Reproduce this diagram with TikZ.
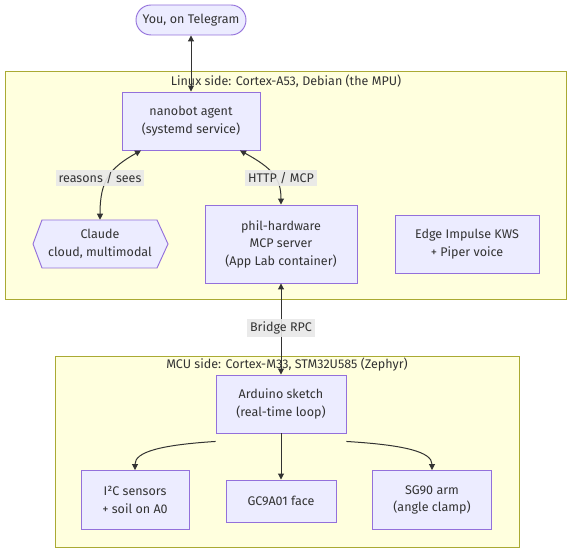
\documentclass[tikz,border=0pt]{standalone}
\usepackage{fontspec}
\setmainfont{Fira Sans}
\usetikzlibrary{arrows.meta}
\definecolor{nodefill}{HTML}{ECECFF}
\definecolor{nodeline}{HTML}{9370DB}
\definecolor{clfill}{HTML}{FFFFDE}
\definecolor{clline}{HTML}{AAAA33}
\definecolor{txt}{HTML}{333333}
\definecolor{lblbg}{HTML}{E8E8E8}
\tikzset{
  box/.style={draw=nodeline, fill=nodefill, line width=0.7pt, align=center, text=txt, inner sep=2pt},
  cluster/.style={draw=clline, fill=clfill, line width=0.75pt},
  cltitle/.style={text=txt, inner sep=0pt},
  conn/.style={draw=txt, line width=0.75pt},
  tip/.tip={Triangle[length=4.5pt,width=4.5pt]},
  edgelbl/.style={fill=lblbg, fill opacity=0.9, text opacity=1, text=txt, inner sep=2pt}
}
\begin{document}
\begin{tikzpicture}[x=0.75pt,y=-0.75pt, font=\fontsize{9.4}{13.1}\selectfont]
\useasboundingbox (0,0) rectangle (572,555);
% clusters
\path[cluster] (5,72) rectangle (566,300);
\node[cltitle] (linuxlbl) at (286,81) {Linux side: Cortex-A53, Debian (the MPU)};
\path[cluster] (55,357) rectangle (519,548);
\node[cltitle] (mculbl) at (287,365) {MCU side: Cortex-M33, STM32U585 (Zephyr)};
% nodes
\node[box, rounded corners=11.25pt, minimum width=82.5pt, minimum height=22.5pt] (tg) at (191,20) {You, on Telegram};
\node[box, minimum width=103.5pt, minimum height=43.5pt] (nano) at (191,121) {nanobot agent\\(systemd service)};
\draw[draw=nodeline, fill=nodefill, line width=0.7pt] (33,244) -- (42,220) -- (157,220) -- (168,244) -- (157,268) -- (42,268) -- cycle;
\node[align=center, text=txt, minimum width=101.25pt, minimum height=36pt, inner sep=0pt] (claude) at (100,244) {Claude\\cloud, multimodal};
\node[box, minimum width=114pt, minimum height=58.5pt] (phil) at (281,244) {phil-hardware\\MCP server\\(App Lab container)};
\node[box, minimum width=108pt, minimum height=43.5pt] (edge) at (467,244) {Edge Impulse KWS\\+ Piper voice};
\node[box, minimum width=97.5pt, minimum height=43.5pt] (ard) at (281,404) {Arduino sketch\\(real-time loop)};
\node[box, minimum width=81pt, minimum height=44.25pt] (i2c) at (135,500) {I²C sensors\\+ soil on A0};
\node[box, minimum width=82.5pt, minimum height=31.5pt] (gc) at (281,501) {GC9A01 face};
\node[box, minimum width=89.25pt, minimum height=44.25pt] (sg) at (432,500) {SG90 arm\\(angle clamp)};
% connectors
\draw[conn, {tip}-{tip}] (tg.south) -- (nano.north);
\draw[conn, {tip}-{tip}] ([xshift=-37.5pt]nano.south) .. controls (110,168) and (100,180) .. (claude.north);
\node[edgelbl] (l1) at (100,178) {reasons / sees};
\draw[conn, {tip}-{tip}] ([xshift=36.75pt]nano.south) .. controls (272,168) and (281,178) .. (phil.north);
\node[edgelbl] (l2) at (281,178) {HTTP / MCP};
\draw[conn, {tip}-{tip}] (phil.south) -- (ard.north);
\node[edgelbl] (l3) at (281,328) {Bridge RPC};
\draw[conn, -{tip}] ([yshift=-6pt]ard.south west) .. controls (160,445) and (135,452) .. (i2c.north);
\draw[conn, -{tip}] (ard.south) -- (gc.north);
\draw[conn, -{tip}] ([yshift=-6pt]ard.south east) .. controls (405,445) and (432,452) .. (sg.north);
\end{tikzpicture}
\end{document}
